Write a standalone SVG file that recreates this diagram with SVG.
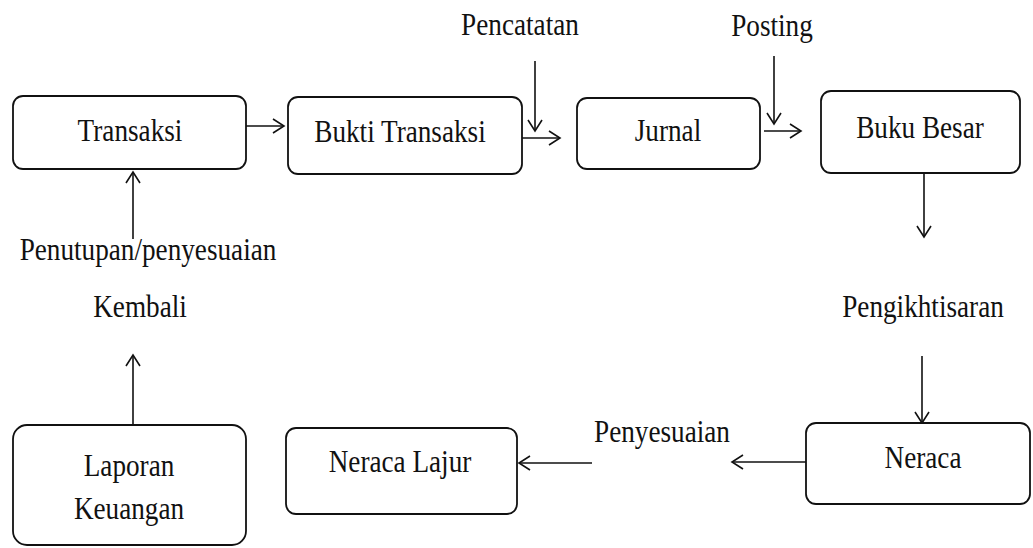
<svg xmlns="http://www.w3.org/2000/svg" width="1033" height="548" viewBox="0 0 1033 548">
<style>
.box{fill:#fff;stroke:#111;stroke-width:1.8}
.t{font-family:"Liberation Serif","Times New Roman",serif;font-size:32px;fill:#111;text-anchor:middle}
.c{stroke:#111;stroke-width:1.6;fill:none;marker-end:url(#ah)}
</style>
<defs>
<marker id="ah" markerUnits="userSpaceOnUse" markerWidth="14" markerHeight="16" refX="12" refY="8" orient="auto">
<path d="M1,1 L12,8 L1,15" fill="none" stroke="#111" stroke-width="1.6"/>
</marker>
</defs>
<rect width="1033" height="548" fill="#fff"/>
<g id="connectors">
<line class="c" x1="246" y1="126" x2="284" y2="126"/>
<line class="c" x1="522" y1="138" x2="560" y2="138"/>
<line class="c" x1="535" y1="61" x2="535" y2="131"/>
<line class="c" x1="764" y1="131" x2="801" y2="131"/>
<line class="c" x1="774" y1="56" x2="774" y2="124"/>
<line class="c" x1="924" y1="173" x2="924" y2="237"/>
<line class="c" x1="922" y1="356" x2="922" y2="423"/>
<line class="c" x1="806" y1="462" x2="732" y2="462"/>
<line class="c" x1="592" y1="463" x2="519" y2="463"/>
<line class="c" x1="133" y1="425" x2="133" y2="355"/>
<line class="c" x1="133" y1="239" x2="133" y2="172"/>
<text class="t" transform="translate(520,35) scale(0.85,1)">Pencatatan</text>
<text class="t" transform="translate(772,36) scale(0.85,1)">Posting</text>
<text class="t" transform="translate(923,317) scale(0.85,1)">Pengikhtisaran</text>
<text class="t" transform="translate(662,442) scale(0.85,1)">Penyesuaian</text>
<text class="t" transform="translate(148,260) scale(0.85,1)">Penutupan/penyesuaian</text>
<text class="t" transform="translate(140,317) scale(0.85,1)">Kembali</text>
</g>
<g id="transaksi"><rect class="box" x="13" y="96" width="233" height="73" rx="10"/><text class="t" transform="translate(130,141) scale(0.85,1)">Transaksi</text></g>
<g id="bukti-transaksi"><rect class="box" x="288" y="97" width="234" height="77" rx="10"/><text class="t" transform="translate(400,142) scale(0.85,1)">Bukti Transaksi</text></g>
<g id="jurnal"><rect class="box" x="577" y="98" width="183" height="71" rx="10"/><text class="t" transform="translate(668,141) scale(0.85,1)">Jurnal</text></g>
<g id="buku-besar"><rect class="box" x="821" y="91" width="199" height="82" rx="10"/><text class="t" transform="translate(920,138) scale(0.85,1)">Buku Besar</text></g>
<g id="neraca"><rect class="box" x="806" y="423" width="224" height="81" rx="10"/><text class="t" transform="translate(923,468) scale(0.85,1)">Neraca</text></g>
<g id="neraca-lajur"><rect class="box" x="286" y="428" width="231" height="86" rx="10"/><text class="t" transform="translate(400,472) scale(0.85,1)">Neraca Lajur</text></g>
<g id="laporan-keuangan"><rect class="box" x="13" y="425" width="233" height="120" rx="14"/><text class="t" transform="translate(129,476) scale(0.85,1)">Laporan</text><text class="t" transform="translate(129,519) scale(0.85,1)">Keuangan</text></g>
</svg>
